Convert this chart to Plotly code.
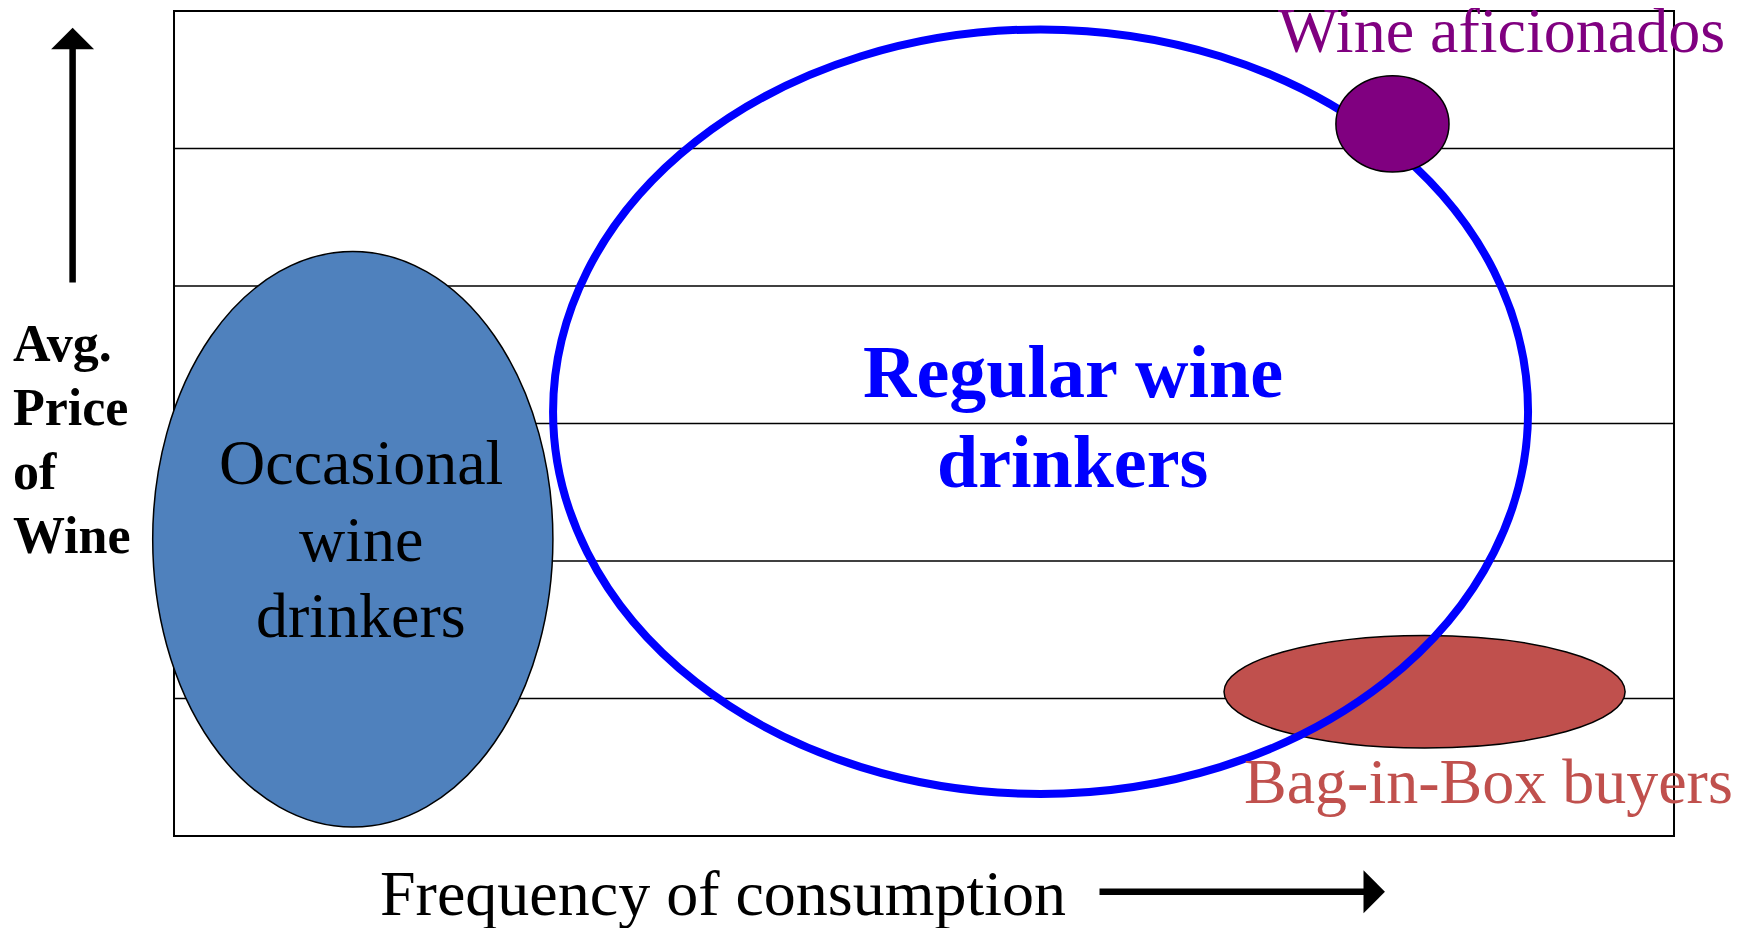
import plotly.graph_objects as go

# ---- data (chart units: frequency 0..10 across, price bands 0..6 up) ----
band_lines = [1, 2, 3, 4, 5]
frame_x = [0, 10]
frame_y = [0, 6]

segments = ["Occasional", "Bag-in-Box", "Regular", "Aficionados"]
seg_cx = [1.192, 8.337, 5.777, 8.123]
seg_cy = [2.158, 1.049, 3.086, 5.179]
seg_rx = [1.334, 1.337, 3.250, 0.377]
seg_ry = [2.093, 0.409, 2.780, 0.350]

# labels
occ_lines = ["Occasional", "wine", "drinkers"]
occ_x = 1.247
occ_y = [2.719, 2.159, 1.606]

reg_lines = ["Regular wine", "drinkers"]
reg_x = 5.993
reg_y = [3.376, 2.721]

afi_label = "Wine aficionados"
afi_pos = (8.853, 5.86)

bib_label = "Bag-in-Box buyers"
bib_pos = (8.76, 0.399)

ylab_lines = ["Avg.", "Price", "of", "Wine"]
ylab_x = -1.085
ylab_y = [3.583, 3.118, 2.652, 2.187]

xlab = "Frequency of consumption"
xlab_pos = (3.66, -0.415)

up_arrow = dict(x=-0.676, y0=4.015, y1=5.878)
right_arrow = dict(y=-0.405, x0=6.16, x1=8.073)

SERIF = "Liberation Serif, Times New Roman, serif"

# page body has an 8px margin: size the figure so it fits the window
FIG_W, FIG_H = 1742, 920
X_PER_PX, Y_PER_PX = 1 / 150.0, 1 / 137.5
x_min = -1.1067
y_max = 6.0218

fig = go.Figure()
fig.add_trace(go.Scatter(x=frame_x, y=frame_y, mode="markers",
                         marker=dict(opacity=0), hoverinfo="skip", showlegend=False))

shapes = []
for b in band_lines:
    shapes.append(dict(type="line", xref="x", yref="y", x0=frame_x[0], x1=frame_x[1],
                       y0=b, y1=b, line=dict(color="black", width=1.5), layer="above"))
shapes.append(dict(type="rect", xref="x", yref="y", x0=frame_x[0], x1=frame_x[1],
                   y0=frame_y[0], y1=frame_y[1], line=dict(color="black", width=2),
                   fillcolor="rgba(0,0,0,0)", layer="above"))

styles = {
    "Occasional": dict(fillcolor="#4F81BD", line=dict(color="black", width=1.5)),
    "Bag-in-Box": dict(fillcolor="#C0504D", line=dict(color="black", width=1.5)),
    "Regular": dict(fillcolor="rgba(0,0,0,0)", line=dict(color="#0000FF", width=8)),
    "Aficionados": dict(fillcolor="#800080", line=dict(color="black", width=1.5)),
}
for name, cx, cy, rx, ry in zip(segments, seg_cx, seg_cy, seg_rx, seg_ry):
    shapes.append(dict(type="circle", xref="x", yref="y",
                       x0=cx - rx, x1=cx + rx, y0=cy - ry, y1=cy + ry,
                       layer="above", **styles[name]))

annotations = []
for t, yy in zip(occ_lines, occ_y):
    annotations.append(dict(x=occ_x, y=yy, text=t, showarrow=False, xanchor="center",
                            yanchor="middle", font=dict(family=SERIF, size=64, color="black")))
for t, yy in zip(reg_lines, reg_y):
    annotations.append(dict(x=reg_x, y=yy, text="<b>" + t + "</b>", showarrow=False,
                            xanchor="center", yanchor="middle",
                            font=dict(family=SERIF, size=74, color="#0000FF")))
annotations.append(dict(x=afi_pos[0], y=afi_pos[1], text=afi_label, showarrow=False,
                        xanchor="center", yanchor="middle",
                        font=dict(family=SERIF, size=64, color="#800080")))
annotations.append(dict(x=bib_pos[0], y=bib_pos[1], text=bib_label, showarrow=False,
                        xanchor="center", yanchor="middle",
                        font=dict(family=SERIF, size=64, color="#C0504D")))
for t, yy in zip(ylab_lines, ylab_y):
    annotations.append(dict(x=ylab_x, y=yy, text="<b>" + t + "</b>", showarrow=False,
                            xanchor="left", yanchor="middle",
                            font=dict(family=SERIF, size=52, color="black")))
annotations.append(dict(x=xlab_pos[0], y=xlab_pos[1], text=xlab, showarrow=False,
                        xanchor="center", yanchor="middle",
                        font=dict(family=SERIF, size=64, color="black")))
annotations.append(dict(x=up_arrow["x"], y=up_arrow["y1"], ax=up_arrow["x"], ay=up_arrow["y0"],
                        xref="x", yref="y", axref="x", ayref="y", text="", showarrow=True,
                        arrowhead=1, arrowsize=1.1, arrowwidth=6.5, arrowcolor="black", standoff=0))
annotations.append(dict(x=right_arrow["x1"], y=right_arrow["y"], ax=right_arrow["x0"], ay=right_arrow["y"],
                        xref="x", yref="y", axref="x", ayref="y", text="", showarrow=True,
                        arrowhead=1, arrowsize=1.1, arrowwidth=6.5, arrowcolor="black", standoff=0))

fig.update_layout(
    width=FIG_W, height=FIG_H, autosize=False,
    margin=dict(l=0, r=0, t=0, b=0),
    paper_bgcolor="white", plot_bgcolor="white",
    xaxis=dict(range=[x_min, x_min + FIG_W * X_PER_PX], visible=False, fixedrange=True),
    yaxis=dict(range=[y_max - FIG_H * Y_PER_PX, y_max], visible=False, fixedrange=True),
    shapes=shapes, annotations=annotations, showlegend=False,
)

fig.write_html("out.html", config={"displayModeBar": False})
